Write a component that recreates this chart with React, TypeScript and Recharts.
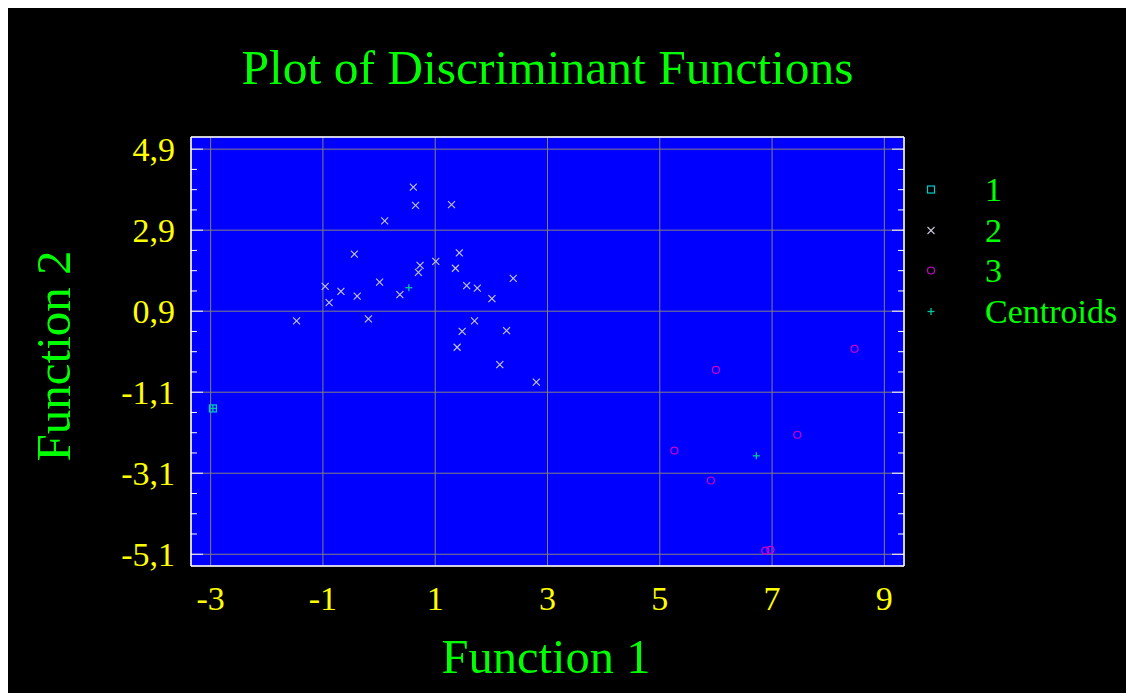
import React from 'react';
import { ScatterChart, Scatter, XAxis, YAxis, CartesianGrid } from 'recharts';

// ---- data ----
const group1X = [-2.96];
const group1Y = [-1.5];

const group2X = [0.61, 0.65, 1.29, 0.1, -0.44, 1.43, 1.01, 1.36, 0.73, 0.7, 2.39, -0.96, 0.01, -0.68, 1.56, 1.75, -0.39, 0.37, -0.89, 2.01, -1.47, -0.19, 1.7, 1.48, 2.27, 1.39, 2.15, 2.8];
const group2Y = [3.96, 3.51, 3.53, 3.13, 2.31, 2.34, 2.13, 1.96, 2.03, 1.86, 1.71, 1.51, 1.62, 1.39, 1.53, 1.47, 1.27, 1.31, 1.11, 1.21, 0.66, 0.71, 0.66, 0.4, 0.42, 0.01, -0.42, -0.85];

const group3X = [8.47, 6.0, 7.45, 5.26, 5.91, 6.88, 6.97];
const group3Y = [-0.03, -0.55, -2.15, -2.54, -3.28, -5.01, -4.99];

const centroidX = [-2.96, 0.53, 6.72];
const centroidY = [-1.5, 1.48, -2.67];

const xMajorTicks = [-3, -1, 1, 3, 5, 7, 9];
const xTickLabels = ['-3', '-1', '1', '3', '5', '7', '9'];
const xMinorTicks = [-3, -2.5, -2, -1.5, -1, -0.5, 0, 0.5, 1, 1.5, 2, 2.5, 3, 3.5, 4, 4.5, 5, 5.5, 6, 6.5, 7, 7.5, 8, 8.5, 9];
const yMajorTicks = [-5.1, -3.1, -1.1, 0.9, 2.9, 4.9];
const yTickLabels = ['-5,1', '-3,1', '-1,1', '0,9', '2,9', '4,9'];
const yMinorTicks = [-5.1, -4.6, -4.1, -3.6, -3.1, -2.6, -2.1, -1.6, -1.1, -0.6, -0.1, 0.4, 0.9, 1.4, 1.9, 2.4, 2.9, 3.4, 3.9, 4.4, 4.9];

const xDomain = [-3.35, 9.35];
const yDomain = [-5.39, 5.2];

const legendLabels = ['1', '2', '3', 'Centroids'];
const titleText = 'Plot of Discriminant Functions';
const xTitle = 'Function 1';
const yTitle = 'Function 2';

// ---- styles ----
const SERIF = '"Liberation Serif", "Times New Roman", serif';
const C1 = '#00CCCC';
const C2 = '#C8C8DC';
const C3 = '#CC00CC';
const CC = '#00C8A0';
const GREEN = '#00FF00';
const YELLOW = '#FFFF00';

const toPoints = (xs: number[], ys: number[]) => xs.map((x, i) => ({ x, y: ys[i] }));
const data1 = toPoints(group1X, group1Y);
const data2 = toPoints(group2X, group2Y);
const data3 = toPoints(group3X, group3Y);
const dataC = toPoints(centroidX, centroidY);

const Square = (p: any) => (
  <rect x={p.cx - 3.5} y={p.cy - 3.5} width={7} height={7} fill="none" stroke={C1} strokeWidth={1.2} />
);
const Cross = (p: any) => (
  <g stroke={C2} strokeWidth={1.1}>
    <line x1={p.cx - 3.5} y1={p.cy - 3.5} x2={p.cx + 3.5} y2={p.cy + 3.5} />
    <line x1={p.cx - 3.5} y1={p.cy + 3.5} x2={p.cx + 3.5} y2={p.cy - 3.5} />
  </g>
);
const Circle = (p: any) => (
  <circle cx={p.cx} cy={p.cy} r={3.5} fill="none" stroke={C3} strokeWidth={1.2} />
);
const Plus = (p: any) => (
  <g stroke={CC} strokeWidth={1.3}>
    <line x1={p.cx - 3.5} y1={p.cy} x2={p.cx + 3.5} y2={p.cy} />
    <line x1={p.cx} y1={p.cy - 3.5} x2={p.cx} y2={p.cy + 3.5} />
  </g>
);

const isIn = (arr: number[], v: number) => arr.findIndex((m) => Math.abs(m - v) < 1e-6);

const XLabelTick = (p: any) => {
  const i = isIn(xMajorTicks, p.payload.value);
  return (
    <text x={p.x} y={p.y + 44} textAnchor="middle" fill={YELLOW} fontFamily={SERIF} fontSize={34}>
      {i >= 0 ? xTickLabels[i] : ''}
    </text>
  );
};
const YLabelTick = (p: any) => {
  const i = isIn(yMajorTicks, p.payload.value);
  return (
    <text x={p.x - 16} y={p.y + 11.5} textAnchor="end" fill={YELLOW} fontFamily={SERIF} fontSize={34}>
      {i >= 0 ? yTickLabels[i] : ''}
    </text>
  );
};

const makeMark = (side: string, majors: number[], majorLen: number, minorLen: number) => (p: any) => {
  const len = isIn(majors, p.payload.value) >= 0 ? majorLen : minorLen;
  let x2 = p.x;
  let y2 = p.y;
  if (side === 'top') y2 = p.y + len;
  if (side === 'bottom') y2 = p.y - len;
  if (side === 'left') x2 = p.x + len;
  if (side === 'right') x2 = p.x - len;
  return <line x1={p.x} y1={p.y} x2={x2} y2={y2} stroke="#FFFFFF" strokeWidth={1} />;
};
const TopMark = makeMark('top', xMajorTicks, 8, 3.5);
const BottomMark = makeMark('bottom', xMajorTicks, 8, 3.5);
const LeftMark = makeMark('left', yMajorTicks, 12, 6);
const RightMark = makeMark('right', yMajorTicks, 12, 6);

const legendShapes = [Square, Cross, Circle, Plus];
const legendY = [181.5, 222.5, 262.5, 303.5];

export default function App() {
  return (
    <div style={{ position: 'absolute', left: 8, top: 8, width: 1118, height: 685, background: '#000000', overflow: 'hidden' }}>
      <div style={{ position: 'absolute', left: 0, top: 0 }}>
        <ScatterChart width={1118} height={685} margin={{ top: 129, right: 222, bottom: 67, left: 0 }}>
          <CartesianGrid xAxisId="main" yAxisId="main" fill="#0000FF" fillOpacity={1} stroke="#808080" strokeWidth={1} />
          <XAxis xAxisId="main" type="number" dataKey="x" domain={xDomain} allowDataOverflow ticks={xMajorTicks} interval={0}
            tickLine={false} axisLine={false} tickSize={0} tickMargin={0} height={60} tick={XLabelTick} />
          <XAxis xAxisId="top" orientation="top" mirror type="number" domain={xDomain} allowDataOverflow ticks={xMinorTicks} interval={0}
            tickLine={false} axisLine={{ stroke: '#FFFFFF', strokeWidth: 1.5 }} tickSize={0} tickMargin={0} tick={TopMark} />
          <XAxis xAxisId="bottom" orientation="bottom" mirror type="number" domain={xDomain} allowDataOverflow ticks={xMinorTicks} interval={0}
            tickLine={false} axisLine={{ stroke: '#FFFFFF', strokeWidth: 1.5 }} tickSize={0} tickMargin={0} tick={BottomMark} />
          <YAxis yAxisId="main" type="number" dataKey="y" domain={yDomain} allowDataOverflow ticks={yMajorTicks} interval={0}
            tickLine={false} axisLine={false} tickSize={0} tickMargin={0} width={183} tick={YLabelTick} />
          <YAxis yAxisId="left" orientation="left" mirror type="number" domain={yDomain} allowDataOverflow ticks={yMinorTicks} interval={0}
            tickLine={false} axisLine={{ stroke: '#FFFFFF', strokeWidth: 1.5 }} tickSize={0} tickMargin={0} tick={LeftMark} />
          <YAxis yAxisId="right" orientation="right" mirror type="number" domain={yDomain} allowDataOverflow ticks={yMinorTicks} interval={0}
            tickLine={false} axisLine={{ stroke: '#FFFFFF', strokeWidth: 1.5 }} tickSize={0} tickMargin={0} tick={RightMark} />
          <Scatter name="1" data={data1} xAxisId="main" yAxisId="main" shape={Square} isAnimationActive={false} />
          <Scatter name="2" data={data2} xAxisId="main" yAxisId="main" shape={Cross} isAnimationActive={false} />
          <Scatter name="3" data={data3} xAxisId="main" yAxisId="main" shape={Circle} isAnimationActive={false} />
          <Scatter name="Centroids" data={dataC} xAxisId="main" yAxisId="main" shape={Plus} isAnimationActive={false} />
        </ScatterChart>
      </div>
      <svg width={1118} height={685} style={{ position: 'absolute', left: 0, top: 0, pointerEvents: 'none' }}>
        <text x={539.5} y={76} textAnchor="middle" fill={GREEN} fontFamily={SERIF} fontSize={49.5}>{titleText}</text>
        <text x={538} y={665} textAnchor="middle" fill={GREEN} fontFamily={SERIF} fontSize={48.5}>{xTitle}</text>
        <text transform="translate(62,348) rotate(-90)" x={0} y={0} textAnchor="middle" fill={GREEN} fontFamily={SERIF} fontSize={49}>{yTitle}</text>
        {legendLabels.map((label, i) => {
          const Shape = legendShapes[i];
          return (
            <g key={label}>
              <Shape cx={923} cy={legendY[i]} />
              <text x={977} y={legendY[i] + 11} fill={GREEN} fontFamily={SERIF} fontSize={34}>{label}</text>
            </g>
          );
        })}
      </svg>
    </div>
  );
}
